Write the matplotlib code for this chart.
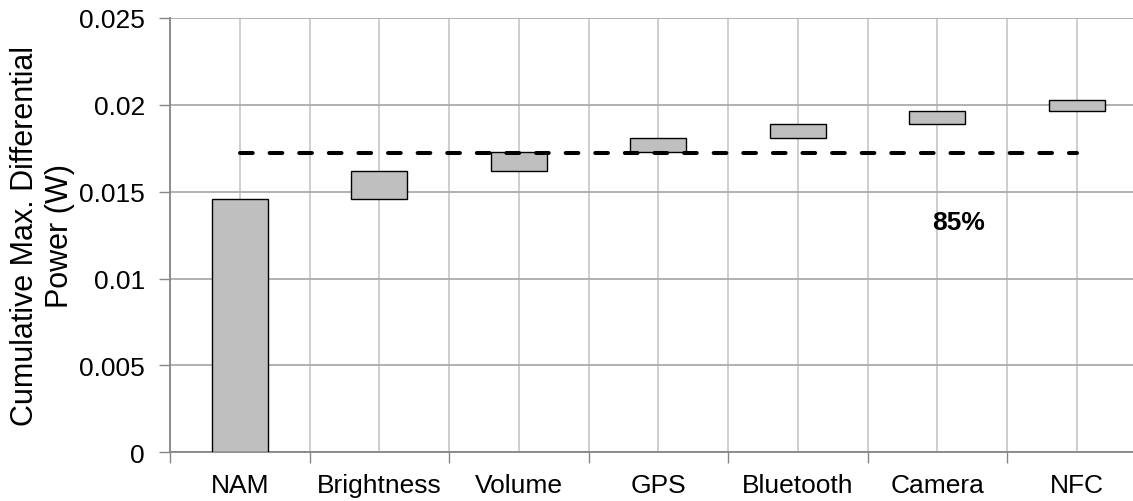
import matplotlib
matplotlib.use("Agg")
import matplotlib.pyplot as plt
import numpy as np

# ---- data ----
categories = ["NAM", "Brightness", "Volume", "GPS", "Bluetooth", "Camera", "NFC"]
increments = [0.0146, 0.00157, 0.00109, 0.00084, 0.00079, 0.00073, 0.00065]
threshold_fraction = 0.85
y_ticks = [0, 0.005, 0.01, 0.015, 0.02, 0.025]
y_tick_labels = ["0", "0.005", "0.01", "0.015", "0.02", "0.025"]
y_label = "Cumulative Max. Differential\nPower (W)"

plt.rcParams['font.family'] = ['Liberation Sans', 'DejaVu Sans']

W, H = 1133, 502
fig = plt.figure(figsize=(W / 100, H / 100), dpi=100)
left_px, right_px, top_px, bottom_px = 170, 1146.5, 19, 453.3
ax = fig.add_axes([left_px / W, 1 - bottom_px / H,
                   (right_px - left_px) / W, (bottom_px - top_px) / H])

inc = np.array(increments)
tops = np.cumsum(inc)
bottoms = tops - inc
x = np.arange(len(categories))

ax.bar(x, inc, bottom=bottoms, width=0.4, color="#BFBFBF",
       edgecolor="black", linewidth=1.0, zorder=3)

total = tops[-1]
thr = threshold_fraction * total
ax.plot([x[0], x[-1]], [thr, thr], color="black", linewidth=2.9,
        linestyle=(0, (3.15, 4.2)), dash_capstyle="round", zorder=4)
ax.text(5.15, 0.01325, f"{int(round(threshold_fraction * 100))}%",
        fontsize=19, fontweight="bold", ha="center", va="center", zorder=5)

ax.set_xlim(-0.5, len(categories) - 0.5)
ax.set_ylim(0, 0.025)

# x ticks: major at boundaries (tick marks), minor at centers (labels)
ax.set_xticks(np.arange(-0.5, len(categories), 1.0))
ax.set_xticklabels([])
ax.set_xticks(x, minor=True)
ax.set_xticklabels(categories, minor=True)
ax.tick_params(axis="x", which="major", direction="out", length=8,
               width=1, color="#868686")
ax.tick_params(axis="x", which="minor", length=0, pad=15, labelsize=19)

ax.set_yticks(y_ticks)
ax.set_yticklabels(y_tick_labels)
ax.tick_params(axis="y", direction="out", length=8, width=1,
               color="#868686", pad=10, labelsize=19)

ax.grid(axis="x", which="both", color="#C6C6C6", linewidth=1.2, zorder=0)
ax.grid(axis="y", which="major", color="#ABABAB", linewidth=1.3, zorder=0)
ax.set_axisbelow(True)

for s in ["top", "right"]:
    ax.spines[s].set_visible(False)
for s in ["left", "bottom"]:
    ax.spines[s].set_color("#868686")
    ax.spines[s].set_linewidth(1.3)

fig.text(42.5 / W, 1 - 236 / H, y_label, rotation=90, ha="center", va="center",
         multialignment="center", fontsize=22, linespacing=1.2)

fig.savefig("out.png", dpi=100)
